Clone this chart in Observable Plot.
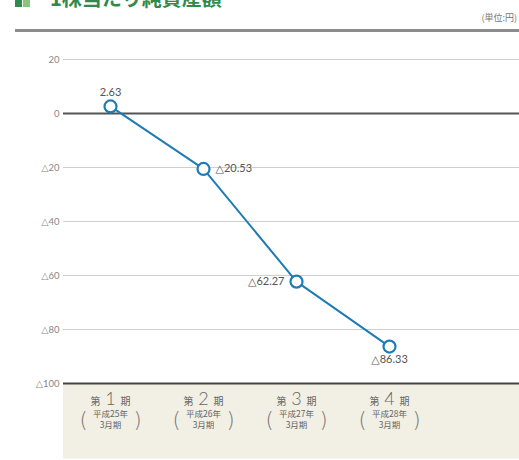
<!DOCTYPE html>
<html>
<head>
<meta charset="utf-8">
<script src="https://cdn.jsdelivr.net/npm/d3@7"></script>
<script src="https://cdn.jsdelivr.net/npm/@observablehq/plot@0.6"></script>
<style>
  html, body { margin: 0; padding: 0; background: #fff; }
  body { width: 519px; height: 460px; position: relative; overflow: hidden;
         font-family: "Noto Sans CJK JP", "Noto Sans", sans-serif; }
  #title { position: absolute; left: 50px; top: -12px; font-size: 20px; line-height: 20px;
           font-weight: bold; color: #2f8a4c; white-space: nowrap; }
  .ico { position: absolute; top: -6px; width: 7px; height: 13px; }
  #unit { position: absolute; right: 2px; top: 11px; font-size: 9px; color: #777; }
  #rule { position: absolute; left: 15px; right: 0; top: 29px; height: 3px; background: #8c8c8c; }
  #chart { position: absolute; left: 0; top: 40px; }
</style>
</head>
<body>
<div class="ico" style="left:15px;background:#2f8a4c"></div>
<div class="ico" style="left:23px;background:#8cc37a"></div>
<div id="title">1株当たり純資産額</div>
<div id="unit">(単位:円)</div>
<div id="rule"></div>
<div id="chart"></div>
<script>
const periods = ["第1期", "第2期", "第3期", "第4期"];
const periodNums = ["1", "2", "3", "4"];
const yearLabels = ["平成25年", "平成26年", "平成27年", "平成28年"];
const monthLabel = "3月期";
const values = [2.63, -20.53, -62.27, -86.33];
const valueLabels = ["2.63", "△20.53", "△62.27", "△86.33"];
const yTicks = [20, 0, -20, -40, -60, -80, -100];

const rows = periods.map((p, i) => ({ period: p, num: periodNums[i], year: yearLabels[i], value: values[i], label: valueLabels[i] }));
const fmt = d => d < 0 ? "△" + (-d) : String(d);
const blue = "#1d7bb5";
const jp = "Noto Sans CJK JP";
const num = "Lato, 'DejaVu Sans', 'Noto Sans CJK JP', sans-serif";

const labelStyle = [
  { i: 0, dx: 0, dy: -10, anchor: "middle", line: "bottom" },
  { i: 1, dx: 12, dy: 0, anchor: "start", line: "middle" },
  { i: 2, dx: -12, dy: 0, anchor: "end", line: "middle" },
  { i: 3, dx: 0, dy: 9, anchor: "middle", line: "top" }
];

const plot = Plot.plot({
  width: 519,
  height: 420,
  marginLeft: 63,
  marginRight: 0,
  marginTop: 19,
  marginBottom: 77,
  style: { fontFamily: jp, background: "transparent" },
  x: { type: "point", domain: periods, range: [109, 390], padding: 0, axis: null },
  y: { domain: [-100, 20], axis: null },
  marks: [
    Plot.rect([0], { y1: -100, y2: -128, fill: "#f2efe4" }),
    Plot.ruleY(yTicks.filter(d => d !== 0 && d !== -100), { stroke: "#cfcfcf", strokeWidth: 1.2 }),
    Plot.ruleY([0], { stroke: "#555", strokeWidth: 1.8 }),
    Plot.ruleY([-100], { stroke: "#444", strokeWidth: 2 }),
    Plot.text(yTicks, { y: d => d, text: fmt, frameAnchor: "left", textAnchor: "end", dx: -4, fontSize: 9.5, fill: "#888", fontFamily: num }),
    Plot.line(rows, { x: "period", y: "value", stroke: blue, strokeWidth: 2 }),
    Plot.dot(rows, { x: "period", y: "value", r: 6, fill: "#fff", stroke: blue, strokeWidth: 2.2 }),
    ...labelStyle.map(s => Plot.text([rows[s.i]], { x: "period", y: "value", text: "label", dx: s.dx, dy: s.dy, textAnchor: s.anchor, lineAnchor: s.line, fontSize: 11, fill: "#555", fontFamily: num })),
    Plot.text(rows, { x: "period", y: () => -100, text: "num", dy: 16, fontSize: 18, fill: "#666", fontWeight: 300, fontFamily: num }),
    Plot.text(rows, { x: "period", y: () => -100, text: () => "第", dx: -15, dy: 18, fontSize: 10, fill: "#666" }),
    Plot.text(rows, { x: "period", y: () => -100, text: () => "期", dx: 15, dy: 18, fontSize: 10, fill: "#666" }),
    Plot.text(rows, { x: "period", y: () => -100, text: "year", dy: 31, fontSize: 8.5, fill: "#666" }),
    Plot.text(rows, { x: "period", y: () => -100, text: () => monthLabel, dy: 42, fontSize: 8.5, fill: "#666" }),
    Plot.text(rows, { x: "period", y: () => -100, text: () => "(", dx: -27, dy: 37, fontSize: 21, fill: "#777", fontWeight: 200, fontFamily: "'DejaVu Sans', sans-serif" }),
    Plot.text(rows, { x: "period", y: () => -100, text: () => ")", dx: 27, dy: 37, fontSize: 21, fill: "#777", fontWeight: 200, fontFamily: "'DejaVu Sans', sans-serif" })
  ]
});
document.getElementById("chart").appendChild(plot);
</script>
</body>
</html>
